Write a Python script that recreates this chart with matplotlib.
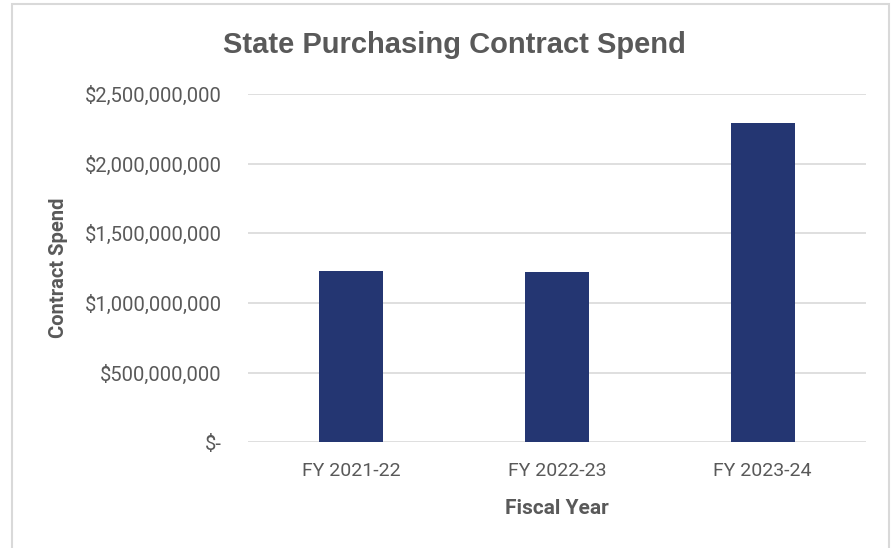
import matplotlib.pyplot as plt
from matplotlib.patches import Rectangle
from matplotlib.ticker import FuncFormatter

years = ['FY 2021-22', 'FY 2022-23', 'FY 2023-24']
spend = [1232000000, 1220000000, 2294000000]
y_ticks = [0, 500000000, 1000000000, 1500000000, 2000000000, 2500000000]

grey = '#595959'
bar_color = '#243672'

plt.rcParams['font.family'] = ['Roboto', 'Liberation Sans', 'DejaVu Sans']

fig = plt.figure(figsize=(8.94, 5.48), dpi=100)
ax = fig.add_axes([0.2774, 0.1929, 0.6909, 0.6356])

x = range(len(years))
ax.bar(x, spend, width=0.31, color=bar_color, zorder=3)

ax.set_xlim(-0.5, len(years) - 0.5)
ax.set_ylim(0, 2500000000)
ax.set_yticks(y_ticks)
ax.set_xticks(list(x))
ax.set_xticklabels(years)


def dollars(v, pos):
    if v == 0:
        return '$-'
    return '${:,.0f}'.format(v)


ax.yaxis.set_major_formatter(FuncFormatter(dollars))
ax.grid(axis='y', color='#D9D9D9', linewidth=1.2, zorder=0)
ax.tick_params(axis='both', length=0, labelcolor=grey)
ax.tick_params(axis='y', pad=19, labelsize=14.5)
ax.tick_params(axis='x', pad=14, labelsize=14)
for s in ax.spines.values():
    s.set_visible(False)

ax.set_xlabel('Fiscal Year', fontsize=15, fontweight='bold', color=grey,
              labelpad=14)
ax.set_ylabel('Contract Spend', fontsize=14.5, fontweight='bold', color=grey,
              labelpad=12)

fig.text(0.508, 0.918, 'State Purchasing Contract Spend', ha='center',
         va='center', fontsize=21, fontweight='bold', color=grey,
         family=['Liberation Sans', 'DejaVu Sans'])

# light chart frame around everything
fig.patches.append(Rectangle((12 / 894, -0.05), 877 / 894, 1 - 4 / 548 + 0.05,
                             transform=fig.transFigure, fill=False,
                             edgecolor='#D9D9D9', linewidth=1.5))

fig.savefig('out.png', dpi=100)
